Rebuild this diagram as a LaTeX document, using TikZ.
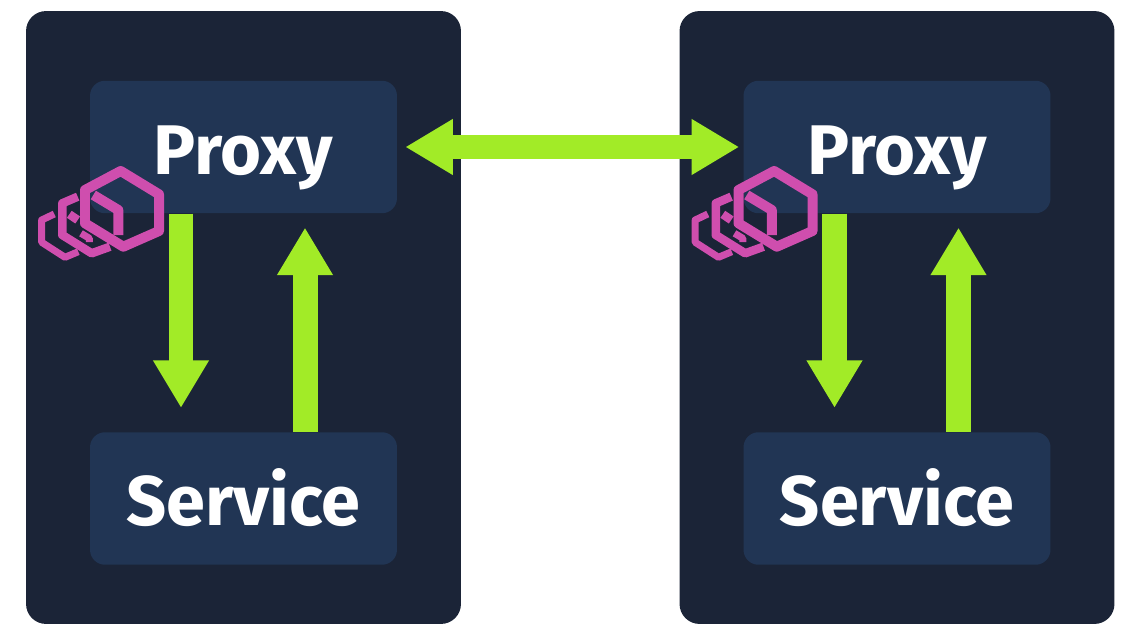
\documentclass[tikz,border=0pt]{standalone}
\usepackage{fontspec}
\setmainfont{Fira Sans}
\usetikzlibrary{arrows.meta}
\usetikzlibrary{calc}

\definecolor{hostcol}{HTML}{1B2437}
\definecolor{boxcol}{HTML}{213554}
\definecolor{flowcol}{HTML}{A2EB27}
\definecolor{iconcol}{HTML}{CF4EAE}

\tikzset{
  hostbox/.style={fill=hostcol,rounded corners=0.4cm,minimum width=8.7cm,minimum height=12.26cm},
  partbox/.style={fill=boxcol,rounded corners=0.3cm,minimum width=6.14cm,minimum height=2.65cm,
    text=white,font=\fontsize{40}{40}\selectfont\bfseries,text height=1.14cm,text depth=0.04cm},
  flow/.style={draw=flowcol,line width=0.5cm,-{Triangle[length=0.95cm,width=1.05cm,fill=flowcol]}},
  twoway/.style={flow,{Triangle[length=0.95cm,width=1.05cm,fill=flowcol]}-{Triangle[length=0.95cm,width=1.05cm,fill=flowcol]}},
  hexa/.style={draw=iconcol,line join=round}
}

\begin{document}
\begin{tikzpicture}[x=0.02cm,y=-0.02cm]
\useasboundingbox (0,0) rectangle (1140,635);
\fill[white] (0,0) rectangle (1140,635);

\node[hostbox] (hostA) at (243.5,317.5) {};
\node[hostbox] (hostB) at (897,317.5) {};

\node[partbox] (proxyA) at (243.5,147) {Proxy};
\node[partbox] (serviceA) at (243.5,498.5) {Service};
\node[partbox] (proxyB) at (897,147) {Proxy};
\node[partbox] (serviceB) at (897,498.5) {Service};

\draw[flow] ($(proxyA.south)+(-62.5,0)$) -- ($(serviceA.north)+(-62.5,-24)$);
\draw[flow] ($(serviceA.north)+(61.5,0)$) -- ($(proxyA.south)+(61.5,14)$);
\draw[flow] ($(proxyB.south)+(-62.5,0)$) -- ($(serviceB.north)+(-62.5,-24)$);
\draw[flow] ($(serviceB.north)+(61.5,0)$) -- ($(proxyB.south)+(61.5,14)$);
\draw[twoway] ($(proxyA.east)+(8,0)$) -- ($(proxyB.west)+(-4,0)$);

\foreach \dx in {0,653.5} {
  \begin{scope}[xshift=\dx*0.02cm]
  \draw[hexa,line width=0.2cm] (120.7,171)--(159,194.3)--(159,231)--(123.3,246.7)--(85,223.3)--(85,190)--cycle;
  \draw[hexa,line width=0.2cm] (93.3,195)--(118.3,210)--(118.3,235);
  \draw[hexa,line width=0.17cm] (77.7,196.7)--(62.3,203.3)--(62.3,235)--(91.7,253.3)--(110,246.7);
  \draw[hexa,line width=0.17cm] (69.3,214.3)--(77.7,220);
  \draw[hexa,line width=0.14cm] (54.3,214)--(41.7,220)--(41.7,242.3)--(65,257.3)--(78.3,251.7);
  \draw[hexa,line width=0.14cm] (81,233.3)--(89.3,238.3)--(89.3,242);
  \end{scope}
}
\end{tikzpicture}
\end{document}
